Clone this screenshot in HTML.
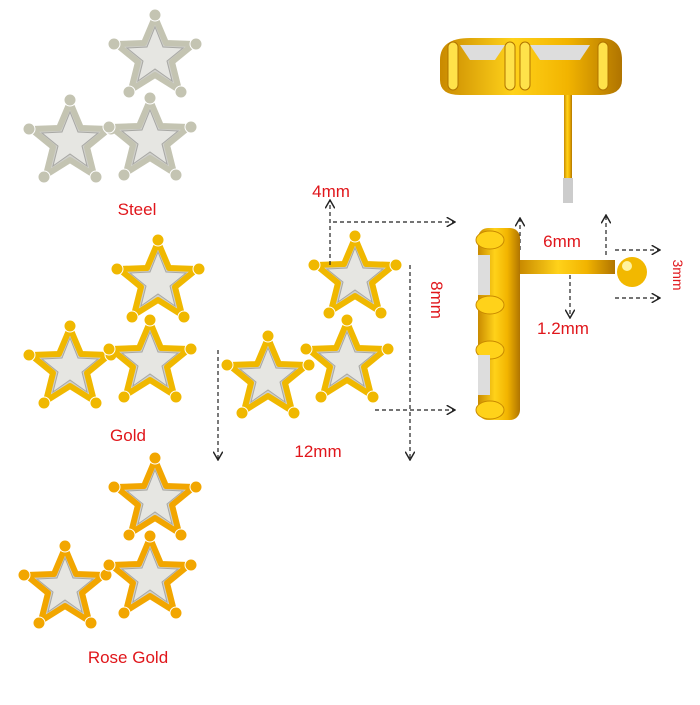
<!DOCTYPE html>
<html><head><style>
html,body{margin:0;padding:0;background:#fff;}
svg text{font-family:"Liberation Sans",sans-serif;fill:#e0161b;}
</style></head><body>
<svg width="700" height="700" viewBox="0 0 700 700" xmlns="http://www.w3.org/2000/svg">
<defs>
<marker id="ar" markerWidth="8" markerHeight="8" refX="7" refY="4" orient="auto"><path d="M0,0 L7,4 L0,8" fill="none" stroke="#222" stroke-width="1.2"/></marker>
<linearGradient id="gold" x1="0" y1="0" x2="1" y2="0"><stop offset="0" stop-color="#c98a00"/><stop offset=".4" stop-color="#ffd21a"/><stop offset=".7" stop-color="#f2b400"/><stop offset="1" stop-color="#b07400"/></linearGradient>
<g id="star">
<polygon points="0,-40 11,-14 39,-13 17,5 24,33 0,18 -24,33 -17,5 -39,-13 -11,-14" fill="#cfcfca" stroke="currentColor" stroke-width="6" stroke-linejoin="round"/>
<polygon points="0,-30 8,-10 28,-9 12,4 17,24 0,12 -17,24 -12,4 -28,-9 -8,-10" fill="#e6e6e2" stroke="#a8a8a4" stroke-width="1"/>
<g fill="currentColor" stroke="#fff" stroke-width="1">
<circle cx="0" cy="-42" r="6"/><circle cx="41" cy="-13" r="6"/><circle cx="26" cy="35" r="6"/><circle cx="-26" cy="35" r="6"/><circle cx="-41" cy="-13" r="6"/>
</g>
</g>
</defs>
<g color="#c4c4b2">
<use href="#star" x="155" y="57"/>
<use href="#star" x="70" y="142"/>
<use href="#star" x="150" y="140"/>
</g>
<text x="137" y="215" font-size="17" text-anchor="middle">Steel</text>
<g color="#f0b800">
<use href="#star" x="158" y="282"/>
<use href="#star" x="70" y="368"/>
<use href="#star" x="150" y="362"/>
</g>
<text x="128" y="441" font-size="17" text-anchor="middle">Gold</text>
<g color="#f2a600">
<use href="#star" x="155" y="500"/>
<use href="#star" x="65" y="588"/>
<use href="#star" x="150" y="578"/>
</g>
<text x="128" y="663" font-size="17" text-anchor="middle">Rose Gold</text>
<g color="#f0b800">
<use href="#star" x="355" y="278"/>
<use href="#star" x="268" y="378"/>
<use href="#star" x="347" y="362"/>
</g>
<g stroke="#222" stroke-width="1.2" stroke-dasharray="4,3" fill="none">
<line x1="330" y1="265" x2="330" y2="200" marker-end="url(#ar)"/>
<line x1="333" y1="222" x2="455" y2="222" marker-end="url(#ar)"/>
<line x1="410" y1="265" x2="410" y2="460" marker-end="url(#ar)"/>
<line x1="375" y1="410" x2="455" y2="410" marker-end="url(#ar)"/>
<line x1="218" y1="350" x2="218" y2="460" marker-end="url(#ar)"/>
<line x1="520" y1="250" x2="520" y2="218" marker-end="url(#ar)"/>
<line x1="606" y1="255" x2="606" y2="215" marker-end="url(#ar)"/>
<line x1="570" y1="268" x2="570" y2="318" marker-end="url(#ar)"/>
<line x1="615" y1="250" x2="660" y2="250" marker-end="url(#ar)"/>
<line x1="615" y1="298" x2="660" y2="298" marker-end="url(#ar)"/>
</g>
<text x="331" y="197" font-size="17" text-anchor="middle">4mm</text>
<text x="318" y="457" font-size="17" text-anchor="middle">12mm</text>
<text transform="translate(431,300) rotate(90)" font-size="17" text-anchor="middle">8mm</text>
<text x="562" y="247" font-size="17" text-anchor="middle">6mm</text>
<text x="563" y="334" font-size="17" text-anchor="middle">1.2mm</text>
<text transform="translate(673,275) rotate(90)" font-size="14" text-anchor="middle">3mm</text>
<rect x="520" y="260" width="95" height="14" fill="url(#gold)"/>
<circle cx="632" cy="272" r="15" fill="#f2b800"/>
<circle cx="627" cy="266" r="5" fill="#fff3a0"/>
<rect x="478" y="228" width="42" height="192" rx="10" fill="url(#gold)"/>
<g fill="#ffd21a" stroke="#c98a00">
<ellipse cx="490" cy="240" rx="14" ry="9"/><ellipse cx="490" cy="305" rx="14" ry="9"/>
<ellipse cx="490" cy="350" rx="14" ry="9"/><ellipse cx="490" cy="410" rx="14" ry="9"/>
</g>
<rect x="478" y="255" width="12" height="40" fill="#ddd"/>
<rect x="478" y="355" width="12" height="40" fill="#ddd"/>
<rect x="564" y="80" width="8" height="100" fill="url(#gold)"/>
<rect x="563" y="178" width="10" height="25" fill="#ccc"/>
<path d="M440,60 Q440,38 470,38 L600,38 Q622,38 622,60 L622,80 Q622,95 600,95 L460,95 Q440,95 440,80Z" fill="url(#gold)"/>
<path d="M460,45 L505,45 L495,60 L470,60Z M530,45 L590,45 L580,60 L540,60Z" fill="#ddd"/>
<g fill="#ffe24a" stroke="#b07400" stroke-width="1">
<rect x="448" y="42" width="10" height="48" rx="5"/><rect x="505" y="42" width="10" height="48" rx="5"/>
<rect x="520" y="42" width="10" height="48" rx="5"/><rect x="598" y="42" width="10" height="48" rx="5"/>
</g>
</svg>
</body></html>
